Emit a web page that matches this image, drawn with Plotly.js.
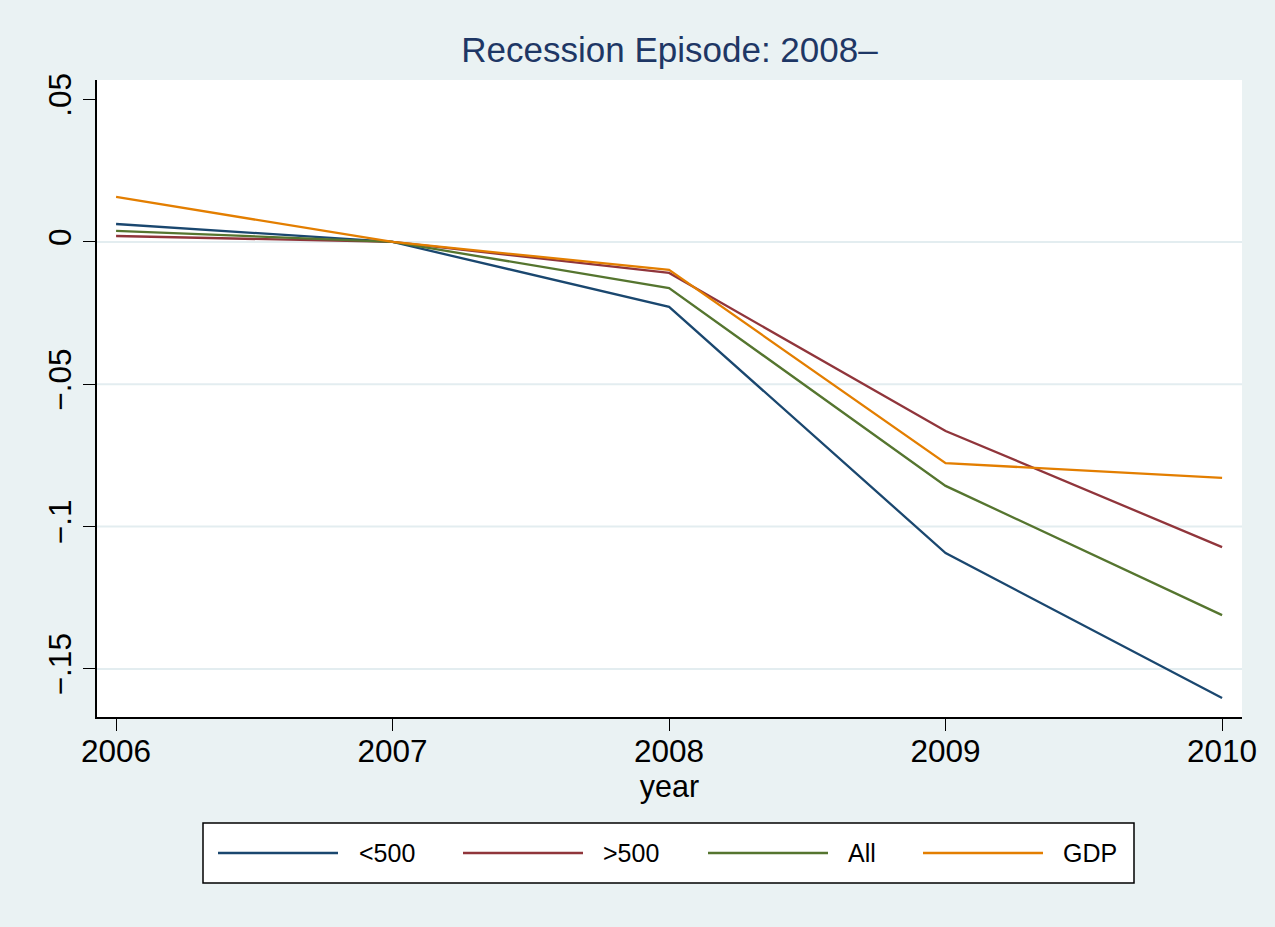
<!DOCTYPE html>
<html>
<head>
<meta charset="utf-8">
<script src="https://cdn.plot.ly/plotly-3.0.1.min.js"></script>
<style>html,body{margin:0;padding:0;background:#eaf2f3;}#chart{width:1275px;height:927px;}</style>
</head>
<body>
<div id="chart"></div>
<script>
// ---- data ----
const years = [2006, 2007, 2008, 2009, 2010];
const xTickText = ['2006', '2007', '2008', '2009', '2010'];
const seriesNames = ['<500', '>500', 'All', 'GDP'];
const small = [0.0063, 0, -0.0228, -0.1093, -0.1602];
const large = [0.0021, 0, -0.0109, -0.0664, -0.1072];
const allFirms = [0.0039, 0, -0.0162, -0.0857, -0.1311];
const gdp = [0.0158, 0, -0.0098, -0.0777, -0.0829];
const yTickVals = [0.05, 0, -0.05, -0.1, -0.15];
const yTickText = ['.05', '0', '\u2212.05', '\u2212.1', '\u2212.15'];
const gridVals = [0, -0.05, -0.1, -0.15];

// ---- styling ----
const colors = ['#1a476f', '#90353b', '#55752f', '#e37e00'];
const seriesValues = [small, large, allFirms, gdp];
const FONT = '"Liberation Sans", Arial, Helvetica, sans-serif';
const W = 1275, H = 927;
const M = {l: 97, r: 33, t: 80, b: 210};
const plotW = W - M.l - M.r, plotH = H - M.t - M.b;
const px2x = p => (p - M.l) / plotW;
const px2y = p => (H - M.b - p) / plotH;

const traces = seriesValues.map((vals, i) => ({
  type: 'scatter', mode: 'lines', x: years, y: vals, name: seriesNames[i],
  line: {color: colors[i], width: 2.3}, showlegend: false, hoverinfo: 'x+y+name'
}));

const shapes = gridVals.map(v => ({
  type: 'line', xref: 'paper', yref: 'y', x0: 0, x1: 1, y0: v, y1: v,
  line: {color: '#e3edf0', width: 2}, layer: 'below'
}));

// legend (drawn manually to mimic Stata's long keys)
const legBox = {x0: 203, x1: 1134, y0: 823, y1: 883};
const keyStarts = [218, 463, 708, 923];
const keyLen = 120;
const labelStarts = [358, 602, 847, 1062];
const legMid = 853;
shapes.push({
  type: 'rect', xref: 'paper', yref: 'paper',
  x0: px2x(legBox.x0), x1: px2x(legBox.x1), y0: px2y(legBox.y1), y1: px2y(legBox.y0),
  line: {color: '#000000', width: 1.5}, fillcolor: '#ffffff', layer: 'above'
});
const annotations = [];
seriesNames.forEach((n, i) => {
  shapes.push({
    type: 'line', xref: 'paper', yref: 'paper',
    x0: px2x(keyStarts[i]), x1: px2x(keyStarts[i] + keyLen), y0: px2y(legMid), y1: px2y(legMid),
    line: {color: colors[i], width: 2.3}, layer: 'above'
  });
  annotations.push({
    xref: 'paper', yref: 'paper', x: px2x(labelStarts[i]), y: px2y(legMid),
    xanchor: 'left', yanchor: 'middle', showarrow: false, text: n.replace('<', '&lt;').replace('>', '&gt;'),
    font: {family: FONT, size: 25, color: '#000000'}, borderpad: 0
  });
});

const layout = {
  width: W, height: H, autosize: false,
  margin: M,
  paper_bgcolor: '#eaf2f3', plot_bgcolor: '#ffffff',
  font: {family: FONT, color: '#000000'},
  title: {
    text: 'Recession Episode: 2008\u2013', x: 0.5, xref: 'paper', xanchor: 'center',
    y: 1 - 50 / H, yref: 'container', yanchor: 'middle',
    font: {family: FONT, size: 35, color: '#1e3765'}
  },
  xaxis: {
    range: [2005.931, 2010.072], tickvals: years, ticktext: xTickText,
    showgrid: false, zeroline: false, showline: true, linecolor: '#000000', linewidth: 1.6,
    ticks: 'outside', ticklen: 12, tickwidth: 1.4, tickcolor: '#000000',
    ticklabelstandoff: -7,
    tickfont: {family: FONT, size: 31.5, color: '#000000'},
    title: {text: 'year', font: {family: FONT, size: 30.5, color: '#000000'}, standoff: 4}
  },
  yaxis: {
    range: [-0.1669, 0.0569], tickvals: yTickVals, ticktext: yTickText, tickangle: -90,
    showgrid: false, zeroline: false, showline: true, linecolor: '#000000', linewidth: 1.6,
    ticks: 'outside', ticklen: 12, tickwidth: 1.4, tickcolor: '#000000',
    tickfont: {family: FONT, size: 31.5, color: '#000000'}
  },
  shapes: shapes,
  annotations: annotations,
  showlegend: false
};

Plotly.newPlot('chart', traces, layout, {displayModeBar: false, staticPlot: false});
</script>
</body>
</html>
